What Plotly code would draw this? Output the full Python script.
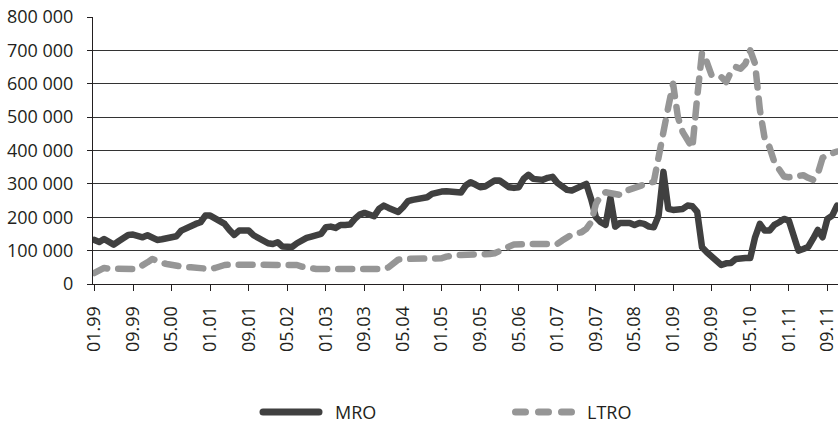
import pandas as pd
import plotly.graph_objects as go

# Monthly observations, January 1999 - November 2011 (EUR million)
MONTHS = [d.strftime("%m.%y") for d in pd.date_range("1999-01-01", periods=155, freq="MS")]

MRO = [
    132, 126, 135, 128, 118, 128, 138, 147, 148, 145, 140, 146,   # 1999
    140, 132, 134, 138, 142, 143, 160, 168, 175, 180, 185, 205,   # 2000
    205, 195, 188, 180, 162, 147, 160, 162, 160, 146, 138, 132,   # 2001
    122, 120, 125, 112, 110, 111, 122, 132, 138, 142, 147, 150,   # 2002
    170, 172, 168, 177, 177, 178, 195, 208, 213, 210, 203, 225,   # 2003
    235, 228, 222, 216, 230, 248, 252, 255, 258, 260, 270, 275,   # 2004
    277, 278, 276, 276, 274, 295, 305, 298, 290, 292, 300, 310,   # 2005
    310, 300, 290, 288, 290, 315, 327, 315, 312, 312, 318, 321,   # 2006
    303, 290, 282, 280, 285, 295, 300, 255, 200, 185, 177, 258,   # 2007
    172, 183, 185, 183, 177, 183, 180, 172, 170, 205, 336, 225,   # 2008
    222, 222, 225, 235, 233, 216, 110, 95, 81, 70, 57, 62,        # 2009
    63, 75, 78, 78, 78, 140, 180, 160, 160, 177, 185, 195,        # 2010
    190, 150, 100, 105, 111, 135, 162, 140, 195, 205, 235,        # 2011
]

LTRO = [
    33, 43, 48, 46, 45, 45, 45, 45, 45, 48, 55, 65,               # 1999
    75, 68, 63, 60, 57, 54, 52, 50, 50, 48, 46, 45,               # 2000
    45, 48, 54, 57, 58, 58, 58, 58, 58, 58, 58, 58,               # 2001
    58, 58, 58, 58, 58, 58, 57, 52, 48, 45, 45, 45,               # 2002
    45, 45, 45, 45, 45, 45, 45, 45, 45, 45, 45, 45,               # 2003
    45, 50, 62, 73, 75, 75, 75, 75, 75, 75, 75, 75,               # 2004
    77, 82, 87, 87, 87, 87, 87, 87, 87, 88, 90, 92,               # 2005
    97, 105, 112, 118, 120, 120, 120, 120, 120, 120, 120, 120,    # 2006
    120, 130, 140, 148, 152, 155, 165, 185, 240, 265, 275, 272,   # 2007
    268, 267, 278, 284, 288, 292, 297, 303, 306, 390, 450, 530,   # 2008
    600, 500, 455, 435, 408, 560, 693, 665, 625, 620, 620, 605,   # 2009
    635, 650, 645, 660, 700, 660, 522, 435, 410, 365, 340, 322,   # 2010
    320, 321, 325, 326, 318, 312, 330, 378, 387, 392, 397,        # 2011
]

TICK_LABELS = MONTHS[::8]
Y_TICKS = list(range(0, 800001, 100000))

mro_values = [v * 1000 for v in MRO]
ltro_values = [v * 1000 for v in LTRO]

FONT = dict(family="Open Sans, Noto Sans, sans-serif", size=18, color="#231f20")

fig = go.Figure()
fig.add_trace(go.Scatter(
    x=MONTHS, y=mro_values, name="MRO", mode="lines",
    line=dict(color="#404040", width=6.5),
    showlegend=False, hoverinfo="x+y",
))
fig.add_trace(go.Scatter(
    x=MONTHS, y=ltro_values, name="LTRO", mode="lines",
    line=dict(color="#969696", width=6.5, dash="14px,11px"),
    showlegend=False, hoverinfo="x+y",
))

# Legend drawn below the plot in paper coordinates
L, W, T, H = 93, 745, 17, 267
def px_x(p):
    return (p - L) / W
def px_y(p):
    return (T + H - p) / H

leg_y = px_y(412)
fig.add_shape(type="line", xref="paper", yref="paper",
              x0=px_x(263), x1=px_x(319), y0=leg_y, y1=leg_y,
              line=dict(color="#404040", width=7))
fig.add_shape(type="line", xref="paper", yref="paper",
              x0=px_x(515.5), x1=px_x(572.5), y0=leg_y, y1=leg_y,
              line=dict(color="#969696", width=7, dash="10px,13px"))
fig.add_annotation(text="MRO", xref="paper", yref="paper", x=px_x(333), y=leg_y,
                   xanchor="left", yanchor="middle", showarrow=False, font=FONT)
fig.add_annotation(text="LTRO", xref="paper", yref="paper", x=px_x(585), y=leg_y,
                   xanchor="left", yanchor="middle", showarrow=False, font=FONT)

fig.update_layout(
    width=838, height=427,
    margin=dict(l=L, r=838 - L - W, t=T, b=427 - T - H),
    paper_bgcolor="white", plot_bgcolor="white",
    font=FONT, separators=". ",
    showlegend=False,
)
fig.update_xaxes(
    type="category", range=[-0.3, 154.2],
    tickmode="array", tickvals=TICK_LABELS, ticktext=TICK_LABELS,
    tickangle=-90, ticks="outside", ticklen=6, tickcolor="#231f20",
    showline=True, linecolor="#231f20", linewidth=1,
    showgrid=False, zeroline=False, ticklabelstandoff=8,
)
fig.update_yaxes(
    range=[0, 800000], tickmode="array", tickvals=Y_TICKS,
    tickformat=",d", ticks="outside", ticklen=5, tickcolor="#231f20",
    showline=True, linecolor="#231f20", linewidth=1,
    showgrid=True, gridcolor="#333333", gridwidth=1.2,
    zeroline=False, ticklabelstandoff=10,
)

ROUND_CAPS = """
var gd = document.getElementById('{plot_id}');
function roundCaps() {
  gd.querySelectorAll('.scatterlayer path.js-line, .shapelayer path').forEach(function (p) {
    p.style.strokeLinecap = 'round';
    p.style.strokeLinejoin = 'round';
  });
}
roundCaps();
setTimeout(roundCaps, 0);
setTimeout(roundCaps, 300);
if (gd.on) { gd.on('plotly_afterplot', roundCaps); }
"""

fig.write_html("out.html", post_script=ROUND_CAPS)
